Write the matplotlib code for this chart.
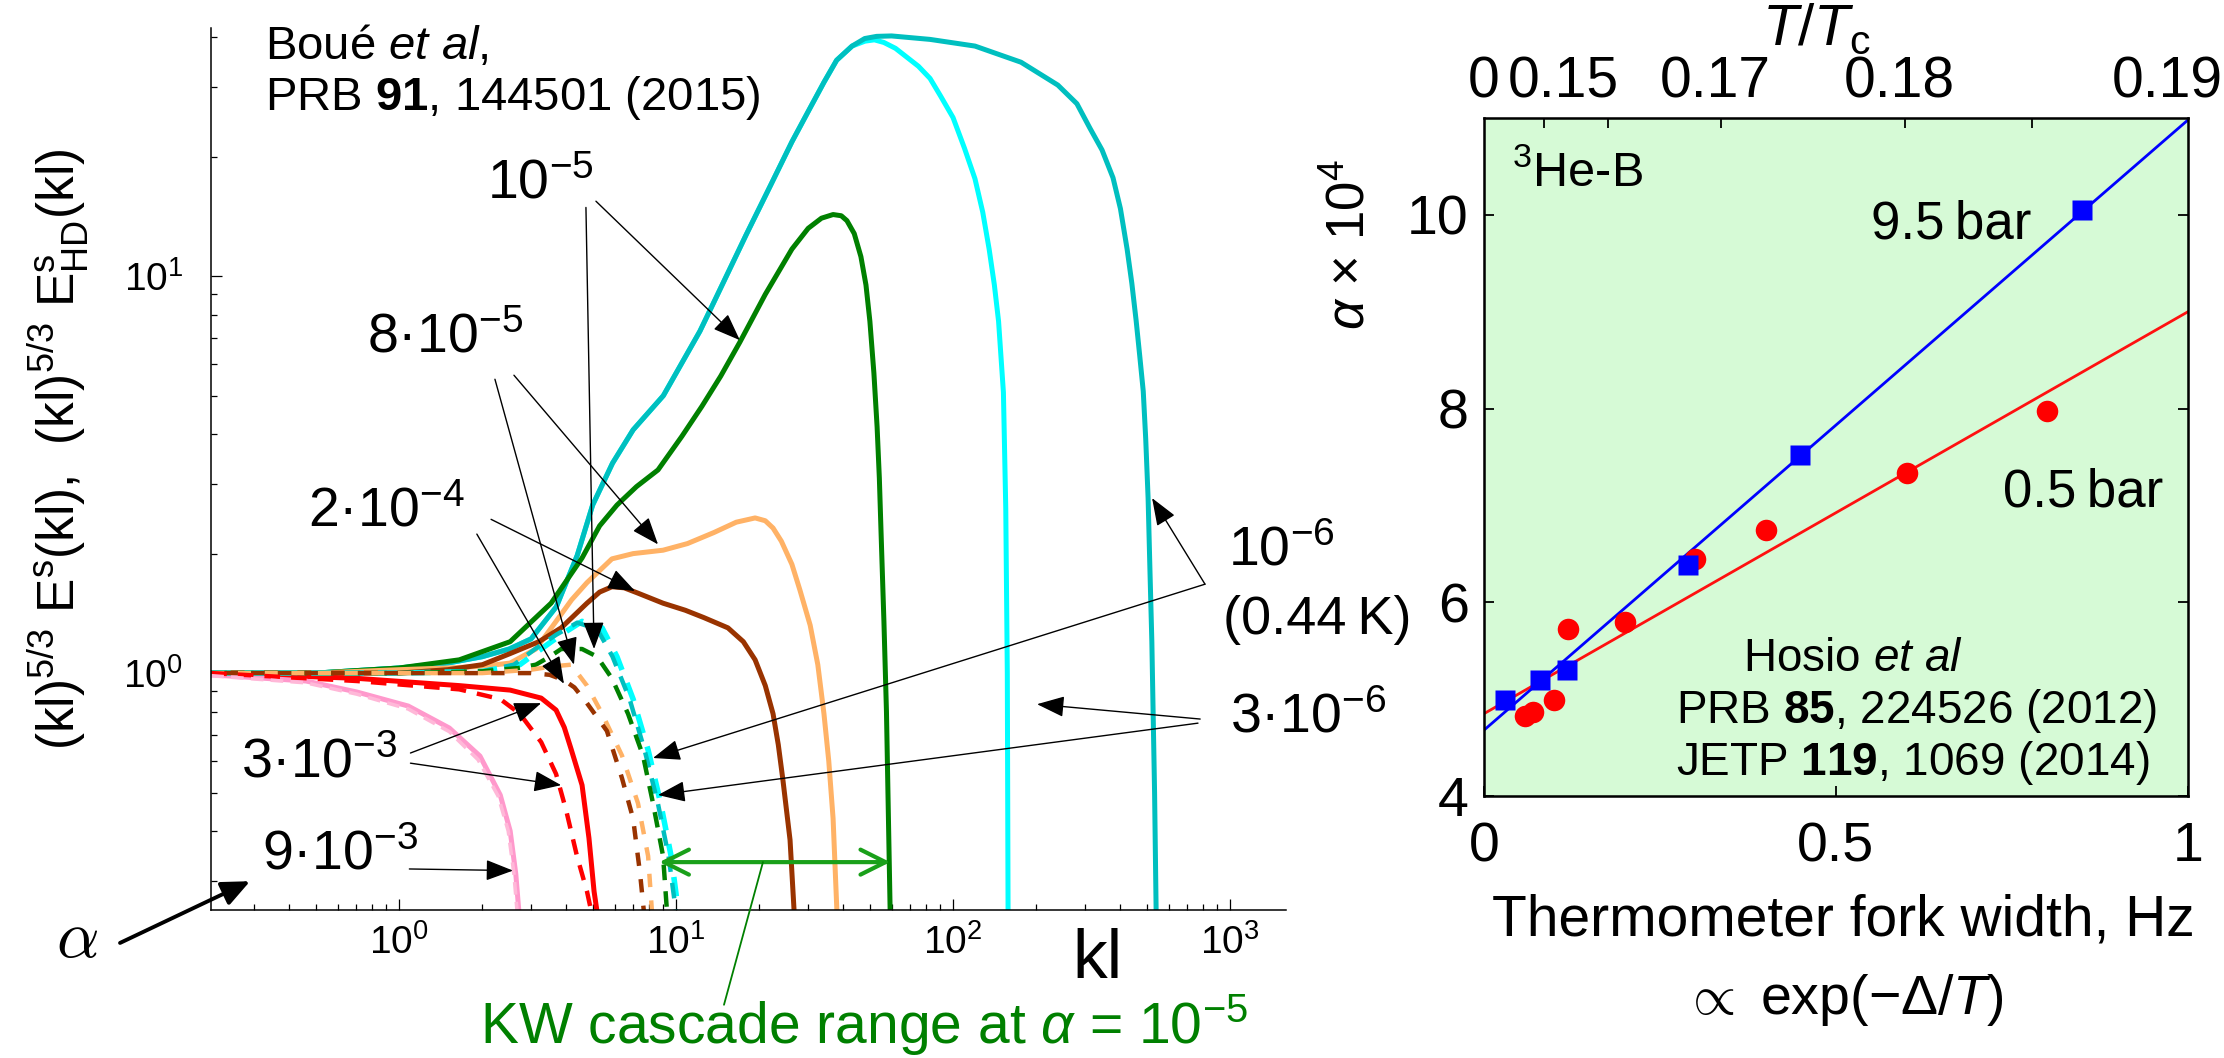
import numpy as np
import matplotlib
matplotlib.use("Agg")
import matplotlib.pyplot as plt
from matplotlib.patches import ArrowStyle
from matplotlib.ticker import FixedLocator, LogLocator, NullFormatter, FixedFormatter

plt.rcParams['font.family'] = ['Liberation Sans', 'DejaVu Sans']
plt.rcParams['mathtext.fontset'] = 'custom'
plt.rcParams['mathtext.rm'] = 'Liberation Sans'
plt.rcParams['mathtext.it'] = 'Liberation Sans:italic'
plt.rcParams['mathtext.bf'] = 'Liberation Sans:bold'
plt.rcParams['mathtext.sf'] = 'Liberation Sans'

# ---------------- spectra (kl)^{5/3} E(kl) for several mutual-friction alpha ----------------
# solid: E^s(kl); dashed: E^s_HD(kl)
kl_1e6 = [0.21, 0.5, 1.0, 1.5, 2.0, 2.5, 3.0, 3.7, 4.4, 5.0, 5.9, 7.0, 9.0, 12.2, 13.7, 17.9, 22.0,
          26.2, 30.0, 34.2, 38.0, 43.2, 48.0, 53.0, 60.0, 82.6, 120, 176, 239, 280, 312, 345, 378,
          402, 425, 442, 458, 472, 486, 496, 506, 514, 522, 534, 541]
es_1e6 = [1.0, 1.0, 1.03, 1.06, 1.10, 1.15, 1.22, 1.47, 1.98, 2.65, 3.38, 4.1, 5.0, 7.27, 8.6, 12.7,
          17.0, 21.8, 26.0, 30.8, 35.0, 38.0, 39.7, 40.2, 40.3, 39.5, 38.0, 34.6, 30.3, 27.2, 23.6,
          20.8, 17.7, 14.8, 11.7, 9.6, 7.74, 6.3, 5.13, 3.9, 2.76, 1.8, 1.2, 0.5, 0.25]

kl_3e6 = [0.21, 0.5, 1.0, 1.5, 2.0, 2.5, 3.0, 3.7, 4.4, 5.0, 5.9, 7.0, 9.0, 12.2, 13.7, 17.9, 22.0,
          26.2, 30.0, 34.2, 38.0, 43.2, 48.1, 52.0, 56.3, 62.0, 68.2, 75.0, 82.6, 90.0, 100, 110,
          120, 128, 135, 141, 146, 152, 155, 157, 158]
es_3e6 = [1.0, 1.0, 1.03, 1.06, 1.10, 1.15, 1.22, 1.47, 1.98, 2.65, 3.38, 4.1, 5.0, 7.27, 8.6, 12.7,
          17.0, 21.8, 26.0, 30.8, 35.0, 38.0, 39.1, 39.4, 38.8, 37.5, 35.6, 33.8, 31.5, 28.5, 25.1,
          21.0, 17.6, 14.5, 11.7, 9.5, 7.7, 5.1, 2.6, 1.0, 0.25]

kl_1e5 = [0.21, 0.5, 1.0, 1.65, 2.52, 3.54, 4.58, 5.3, 6.12, 7.2, 8.61, 10.5, 12.4, 14.5, 17.0,
          21.0, 26.2, 30.0, 33.5, 36.9, 39.5, 41.4, 44.0, 46.5, 48.5, 50.1, 51.8, 53.2, 54.2, 55.0,
          56.3, 57.5, 59.3]
es_1e5 = [1.0, 1.0, 1.03, 1.08, 1.20, 1.50, 1.95, 2.35, 2.65, 2.95, 3.25, 3.95, 4.7, 5.6, 6.82,
          9.0, 11.7, 13.2, 14.0, 14.3, 14.2, 13.8, 12.8, 11.2, 9.5, 7.7, 5.7, 4.17, 3.1, 2.24,
          1.35, 0.8, 0.25]

kl_8e5 = [0.21, 0.5, 1.0, 1.5, 2.0, 2.52, 3.12, 3.69, 4.2, 4.77, 5.87, 7.0, 8.98, 11.0, 13.7, 16.5,
          19.3, 21.0, 22.4, 24.0, 26.2, 28.0, 30.5, 32.5, 34.2, 35.6, 36.9, 38.1]
es_8e5 = [1.0, 1.0, 1.02, 1.03, 1.04, 1.06, 1.15, 1.35, 1.53, 1.69, 1.94, 2.0, 2.04, 2.12, 2.26,
          2.40, 2.46, 2.42, 2.32, 2.15, 1.88, 1.62, 1.32, 1.05, 0.79, 0.6, 0.43, 0.25]

kl_2e4 = [0.21, 0.5, 1.0, 1.5, 2.0, 2.52, 3.2, 3.85, 4.77, 5.3, 5.87, 6.5, 7.29, 8.98, 10.8, 12.6,
          15.4, 17.5, 19.3, 21.0, 22.4, 23.4, 24.3, 25.8, 26.7]
es_2e4 = [1.0, 1.0, 1.0, 1.02, 1.05, 1.12, 1.2, 1.30, 1.50, 1.60, 1.65, 1.64, 1.59, 1.50, 1.44,
          1.38, 1.30, 1.2, 1.08, 0.93, 0.79, 0.66, 0.54, 0.38, 0.25]

kl_3e3 = [0.21, 0.705, 1.65, 2.52, 3.26, 3.69, 3.95, 4.18, 4.58, 4.85, 5.06, 5.19]
es_3e3 = [1.0, 0.97, 0.93, 0.906, 0.865, 0.807, 0.73, 0.644, 0.522, 0.384, 0.282, 0.25]

kl_9e3 = [0.21, 0.462, 0.705, 1.08, 1.52, 1.96, 2.32, 2.52, 2.64, 2.71]
es_9e3 = [0.99, 0.955, 0.896, 0.826, 0.727, 0.618, 0.493, 0.40, 0.312, 0.25]

# hydrodynamic parts (dashed)
kl_hd_1e6 = [0.21, 1.0, 2.0, 2.6, 3.1, 3.7, 4.4, 5.2, 5.9, 6.8, 7.7, 8.6, 9.4, 10.0]
ehd_1e6 = [1.0, 1.0, 1.01, 1.05, 1.15, 1.25, 1.34, 1.29, 1.10, 0.86, 0.64, 0.47, 0.346, 0.25]
kl_hd_3e6 = [0.21, 1.0, 2.0, 2.73, 3.26, 3.85, 4.58, 5.41, 6.12, 7.0, 7.93, 8.8, 9.6, 10.2]
ehd_3e6 = [1.0, 1.0, 1.01, 1.05, 1.15, 1.25, 1.35, 1.30, 1.10, 0.86, 0.64, 0.47, 0.346, 0.25]
kl_hd_1e5 = [0.21, 1.0, 2.0, 2.7, 3.12, 3.5, 3.85, 4.58, 5.19, 5.87, 6.71, 7.6, 8.26, 8.98, 9.28]
ehd_1e5 = [1.0, 1.0, 1.01, 1.03, 1.05, 1.10, 1.15, 1.15, 1.10, 0.97, 0.79, 0.62, 0.47, 0.346, 0.25]
kl_hd_8e5 = [0.21, 1.0, 2.0, 3.0, 3.6, 4.18, 4.77, 5.41, 6.38, 7.29, 7.93, 8.19]
ehd_8e5 = [1.0, 1.0, 1.0, 1.02, 1.04, 1.05, 0.93, 0.79, 0.62, 0.47, 0.346, 0.25]
kl_hd_2e4 = [0.21, 1.0, 2.0, 3.0, 3.5, 3.94, 4.3, 4.77, 5.63, 6.38, 7.0, 7.42, 7.66]
ehd_2e4 = [1.0, 1.0, 1.0, 1.0, 0.99, 0.96, 0.92, 0.84, 0.715, 0.544, 0.43, 0.312, 0.25]
kl_hd_3e3 = [0.21, 0.705, 1.65, 2.32, 2.73, 3.26, 3.69, 4.01, 4.39, 4.77, 4.95]
ehd_3e3 = [1.0, 0.955, 0.91, 0.86, 0.79, 0.67, 0.557, 0.452, 0.346, 0.282, 0.25]
kl_hd_9e3 = [0.21, 0.462, 0.705, 1.08, 1.52, 1.93, 2.28, 2.48, 2.60, 2.67]
ehd_9e3 = [0.985, 0.945, 0.885, 0.812, 0.712, 0.605, 0.49, 0.40, 0.312, 0.25]

kw_range = (8.7, kl_1e5[-1])     # KW cascade range at alpha = 1e-5

# ---------------- mutual friction vs fork width (Hosio et al) ----------------
fork_95 = [0.030, 0.0795, 0.118, 0.290, 0.449, 0.849]
alpha_95 = [4.99, 5.20, 5.30, 6.38, 7.52, 10.05]
fork_05 = [0.058, 0.070, 0.099, 0.119, 0.200, 0.300, 0.400, 0.601, 0.800]
alpha_05 = [4.83, 4.87, 4.99, 5.72, 5.80, 6.45, 6.75, 7.33, 7.97]
fit_95 = (4.68, 6.30)   # intercept, slope
fit_05 = (4.85, 4.15)

gap = 1.76      # Delta / T_c
t_ref = 0.19    # T/Tc at 1 Hz fork width
tc_ticks = [0.15, 0.16, 0.17, 0.18, 0.185]
tc_labels = ["0", "0.15", "0.17", "0.18", "0.19"]
tc_label_t = [0.0, 0.15, 0.17, 0.18, 0.19]


def fork_width(t):
    t = np.asarray(t, dtype=float)
    out = np.zeros_like(t)
    nz = t > 0
    out[nz] = np.exp(-gap * (1.0 / t[nz] - 1.0 / t_ref))
    return out


# ---------------- figure ----------------
W, H = 2224, 1058
fig = plt.figure(figsize=(W / 100, H / 100), dpi=100)


def px_axes(x0, y0, x1, y1):
    return fig.add_axes([x0 / W, 1 - y1 / H, (x1 - x0) / W, (y1 - y0) / H])


TEAL = '#00bfbf'
CYAN = '#00ffff'
GREEN = '#008000'
ORANGE = '#ffb266'
BROWN = '#993300'
RED = '#ff0000'
PINK = '#ff99cc'
PINK_D = '#ffb8d8'

axL = px_axes(211, 28, 1286, 910)
axL.set_xscale('log')
axL.set_yscale('log')

lw = 3.6
solid_kw = dict(lw=lw, solid_joinstyle='round', solid_capstyle='butt')
axL.plot(kl_3e6, es_3e6, color=CYAN, **solid_kw)
axL.plot(kl_1e6, es_1e6, color=TEAL, **solid_kw)
axL.plot(kl_1e5, es_1e5, color=GREEN, **solid_kw)
axL.plot(kl_8e5, es_8e5, color=ORANGE, **solid_kw)
axL.plot(kl_2e4, es_2e4, color=BROWN, **solid_kw)
axL.plot(kl_3e3, es_3e3, color=RED, **solid_kw)
axL.plot(kl_9e3, es_9e3, color=PINK, **solid_kw)

dlw = 3.2
axL.plot(kl_hd_3e6, ehd_3e6, color=CYAN, lw=dlw + 0.8, linestyle=(0, (3.5, 2.5)))
axL.plot(kl_hd_1e6, ehd_1e6, color=TEAL, lw=dlw, linestyle=(0, (3.5, 2.5)))
axL.plot(kl_hd_1e5, ehd_1e5, color=GREEN, lw=dlw, linestyle=(0, (3.5, 2.5)))
axL.plot(kl_hd_8e5, ehd_8e5, color=ORANGE, lw=dlw, linestyle=(0, (3.0, 3.0)))
axL.plot(kl_hd_2e4, ehd_2e4, color=BROWN, lw=dlw, linestyle=(3.0, (3.0, 3.0)))
axL.plot(kl_hd_3e3, ehd_3e3, color=RED, lw=dlw, linestyle=(0, (3.5, 2.5)))
axL.plot(kl_hd_9e3, ehd_9e3, color=PINK_D, lw=dlw - 0.6, linestyle=(0, (3.5, 2.0)))

axL.set_xlim(0.2096, 1592)
axL.set_ylim(0.253, 42.2)
for s in ['top', 'right']:
    axL.spines[s].set_visible(False)
for s in ['left', 'bottom']:
    axL.spines[s].set_linewidth(1.1)
axL.xaxis.set_major_locator(FixedLocator([1, 10, 100, 1000]))
axL.yaxis.set_major_locator(FixedLocator([1, 10]))
axL.xaxis.set_minor_locator(LogLocator(base=10, subs=np.arange(2, 10), numticks=30))
axL.yaxis.set_minor_locator(LogLocator(base=10, subs=np.arange(2, 10), numticks=30))
axL.xaxis.set_minor_formatter(NullFormatter())
axL.yaxis.set_minor_formatter(NullFormatter())
axL.tick_params(which='major', direction='in', length=8, width=0.9, labelsize=28)
axL.tick_params(which='minor', direction='in', length=4, width=0.9)
axL.tick_params(axis='x', which='major', pad=10)
axL.tick_params(axis='y', which='major', pad=20)

axL.text(-0.1405, 0.5227,
         r"(kl)$^{5/3}$ E$^{\rm s}$(kl),  (kl)$^{5/3}$ E$^{\rm s}_{\rm HD}$(kl)",
         transform=axL.transAxes, rotation=90, ha='center', va='center', fontsize=37)
axL.text(0.825, -0.057, "kl", transform=axL.transAxes, ha='center', va='center', fontsize=50)
axL.text(0.050, 1.0045, "Bou\u00e9 $\\it{et\\ al}$,\nPRB $\\bf{91}$, 144501 (2015)",
         transform=axL.transAxes, ha='left', va='top', fontsize=34, linespacing=1.15)

ann_fs = 40
axL.text(3.23, 17.1, r"10$^{-5}$", ha='center', va='center', fontsize=ann_fs)
axL.text(1.47, 6.98, "8\u00b710$^{-5}$", ha='center', va='center', fontsize=ann_fs)
axL.text(0.90, 2.55, "2\u00b710$^{-4}$", ha='center', va='center', fontsize=ann_fs)
axL.text(0.514, 0.593, "3\u00b710$^{-3}$", ha='center', va='center', fontsize=ann_fs)
axL.text(0.612, 0.348, "9\u00b710$^{-3}$", ha='center', va='center', fontsize=ann_fs)
axL.text(984, 2.02, r"10$^{-6}$", ha='left', va='center', fontsize=ann_fs, clip_on=False)
axL.text(944, 1.36, "(0.44\u2009K)", ha='left', va='center', fontsize=ann_fs - 1, clip_on=False)
axL.text(1000, 0.77, "3\u00b710$^{-6}$", ha='left', va='center', fontsize=ann_fs, clip_on=False)
axL.text(0.0688, 0.212, r"$\alpha$", ha='center', va='center', fontsize=48,
         math_fontfamily='cm', clip_on=False)


def arrow(ax, start, head, lw=1.0, hl=16, hw=6, color='k', style='-|>'):
    ax.annotate('', xy=head, xytext=start, xycoords='data', textcoords='data',
                arrowprops=dict(arrowstyle=ArrowStyle(style, head_length=hl, head_width=hw),
                                lw=lw, color=color, shrinkA=0, shrinkB=0, mutation_scale=1),
                annotation_clip=False)


arrows_left = [
    ((5.14, 15.45), (17.0, 6.9)),
    ((4.73, 14.9), (5.06, 1.15)),
    ((2.6, 5.63), (8.61, 2.11)),
    ((2.22, 5.5), (4.28, 1.05)),
    ((2.15, 2.44), (7.11, 1.61)),
    ((1.91, 2.24), (3.94, 0.94)),
    ((1.10, 0.629), (3.26, 0.84)),
    ((1.10, 0.593), (3.85, 0.522)),
    ((1.09, 0.321), (2.58, 0.318)),
    ((812, 1.675), (523, 2.76)),
    ((812, 1.675), (8.26, 0.611)),
    ((780, 0.766), (201, 0.835)),
    ((766, 0.748), (8.61, 0.493)),
]
for st, hd in arrows_left:
    arrow(axL, st, hd, lw=1.0, hl=17, hw=6.5)

arrow(axL, (0.0984, 0.209), (0.29, 0.299), lw=2.8, hl=17, hw=7.5)

# KW cascade range
KWG = '#1aa01a'
arrow(axL, (kw_range[0], 0.334), (kw_range[1], 0.334), lw=3.0, hl=18, hw=9, color=KWG, style='<->')
axL.annotate('', xy=(20.6, 0.334), xytext=(14.9, 0.146),
             arrowprops=dict(arrowstyle='-', lw=1.3, color='#008000', shrinkA=0, shrinkB=0),
             annotation_clip=False)
axL.text(1.96, 0.117, r"KW cascade range at $\alpha$ = 10$^{-5}$", ha='left', va='baseline',
         fontsize=41, color='#008000', clip_on=False)

# ---------------- right panel ----------------
axR = px_axes(1484, 118, 2188, 796)
axR.set_facecolor('#d6fad6')
xf = np.array([0.0, 1.0])
axR.plot(xf, fit_05[0] + fit_05[1] * xf, color='#ff1010', lw=2.0)
axR.plot(xf, fit_95[0] + fit_95[1] * xf, color='#0000ff', lw=2.0)
axR.plot(fork_05, alpha_05, 'o', color='#ff0000', ms=15.5, mec='none')
axR.plot(fork_95, alpha_95, 's', color='#0000ff', ms=14.0, mec='none')
axR.set_xlim(0, 1)
axR.set_ylim(4, 11)
for s in axR.spines.values():
    s.set_linewidth(1.8)
axR.set_xticks([0, 0.5, 1])
axR.xaxis.set_major_formatter(FixedFormatter(["0", "0.5", "1"]))
axR.set_yticks([4, 6, 8, 10])
axR.tick_params(direction='in', length=7, width=1.3, labelsize=40)
axR.tick_params(axis='y', right=True, pad=11)
axR.tick_params(axis='x', pad=18)

axR.text(0.040, 10.43, r"$^{3}$He-B", ha='left', va='center', fontsize=35)
axR.text(0.777, 9.90, "9.5\u2009bar", ha='right', va='center', fontsize=38)
axR.text(0.851, 7.13, "0.5\u2009bar", ha='center', va='center', fontsize=38)
axR.text(0.368, 5.41, r"Hosio $\it{et\ al}$", ha='left', va='center', fontsize=33)
axR.text(0.273, 4.88, r"PRB $\bf{85}$, 224526 (2012)", ha='left', va='center', fontsize=33)
axR.text(0.273, 4.34, r"JETP $\bf{119}$, 1069 (2014)", ha='left', va='center', fontsize=33)

axR.text(-0.19, 0.813, "$\\alpha$ \u00d7 10$^4$", transform=axR.transAxes, rotation=90,
         ha='center', va='center', fontsize=38)
axR.text(0.51, -0.183, "Thermometer fork width, Hz", transform=axR.transAxes,
         ha='center', va='center', fontsize=41)
axR.text(0.51, -0.301, r"$\propto$ exp($-\Delta/T$)", transform=axR.transAxes,
         ha='center', va='center', fontsize=40)

# temperature scale on top
axT = axR.twiny()
axT.set_xlim(0, 1)
axT.set_xticks(fork_width(tc_ticks))
axT.set_xticklabels([])
axT.tick_params(direction='in', length=7, width=1.3)
label_shift = [0, 14, -4, -4, -15]   # points, keeps neighbouring labels apart
for lab, t, dx in zip(tc_labels, tc_label_t, label_shift):
    axT.annotate(lab, xy=(float(fork_width([t])[0]), 1.0), xycoords=('data', 'axes fraction'),
                 xytext=(dx, 6), textcoords='offset points', ha='center', va='bottom',
                 fontsize=41, annotation_clip=False)
axT.text(0.472, 1.13, r"$T/T_{\rm c}$", transform=axR.transAxes, ha='center', va='center',
         fontsize=42)

fig.savefig("out.png", dpi=100)
